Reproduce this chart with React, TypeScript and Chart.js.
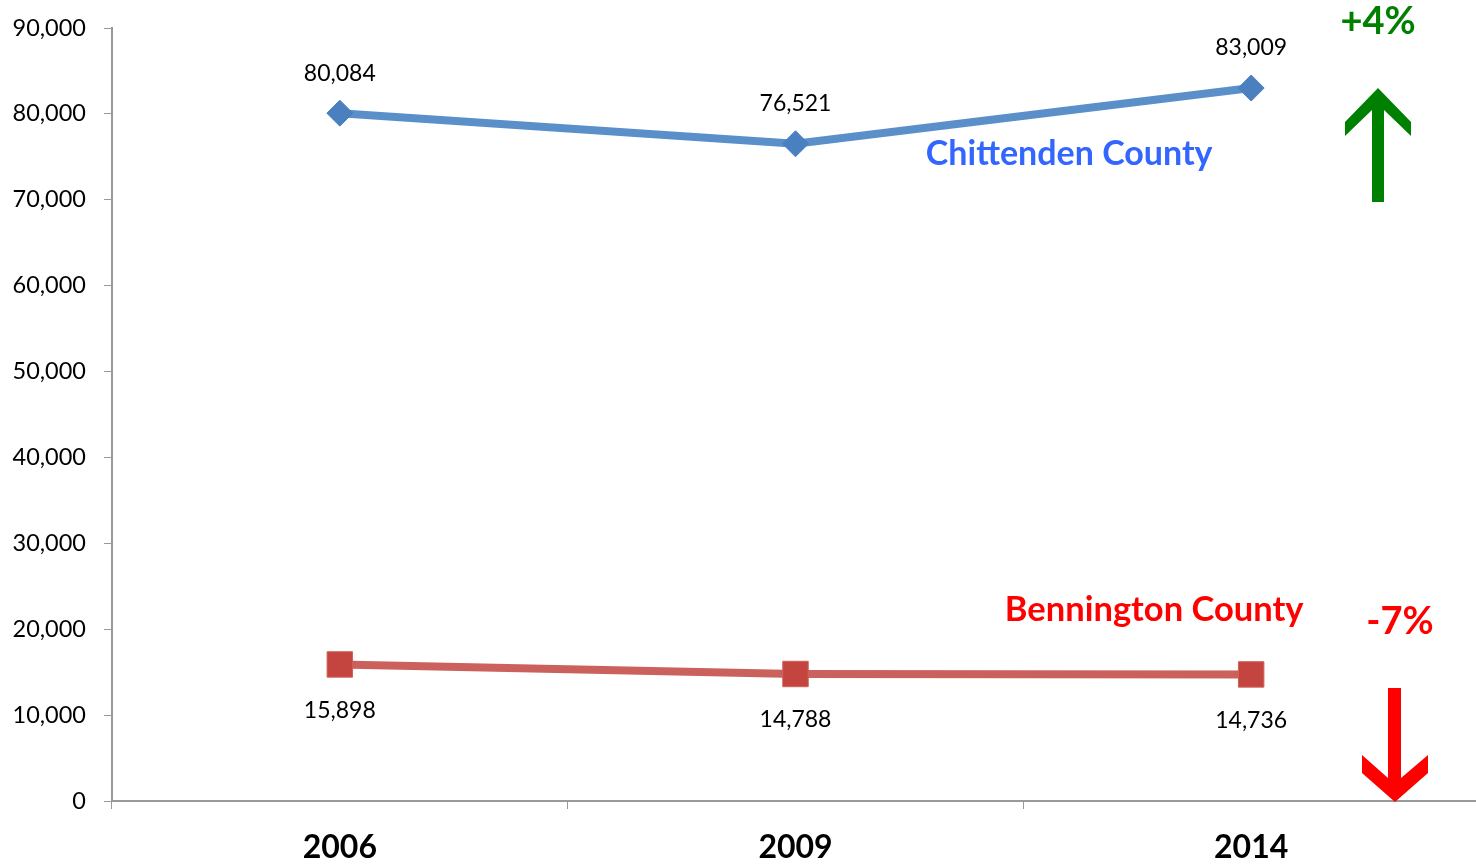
import React, { useEffect, useRef } from "react";
import { Chart, registerables } from "chart.js";

Chart.register(...registerables);

const years = ["2006", "2009", "2014"];
const chittenden = [80084, 76521, 83009];
const bennington = [15898, 14788, 14736];
const yTicks = [0, 10000, 20000, 30000, 40000, 50000, 60000, 70000, 80000, 90000];

const FONT = "Lato, 'Open Sans', sans-serif";

const fmt = (v: number) => v.toLocaleString("en-US");

const labelPlugin = {
  id: "valueLabels",
  afterDatasetsDraw(chart: any) {
    const ctx = chart.ctx;
    ctx.save();
    ctx.font = `23px ${FONT}`;
    ctx.fillStyle = "#000";
    ctx.textAlign = "center";
    ctx.textBaseline = "middle";
    chart.data.datasets.forEach((ds: any, i: number) => {
      const meta = chart.getDatasetMeta(i);
      meta.data.forEach((pt: any, j: number) => {
        const dy = i === 0 ? -40 : 46;
        ctx.fillText(fmt(ds.data[j]), pt.x, pt.y + dy);
      });
    });
    ctx.restore();
  },
};

const annotationPlugin = {
  id: "annotations",
  afterDraw(chart: any) {
    const ctx = chart.ctx;
    const y = chart.scales.y;
    const x = chart.scales.x;
    ctx.save();
    ctx.textAlign = "center";
    ctx.textBaseline = "middle";
    // series names
    ctx.font = `bold 34px ${FONT}`;
    ctx.fillStyle = "#3366ff";
    ctx.fillText("Chittenden County", x.getPixelForValue(2) - 182, y.getPixelForValue(75000) - 3);
    ctx.font = `bold 34.5px ${FONT}`;
    ctx.fillStyle = "#ff0000";
    ctx.fillText("Bennington County", x.getPixelForValue(2) - 97, y.getPixelForValue(22000) - 2);
    // percentages
    ctx.font = `bold 38px ${FONT}`;
    ctx.fillStyle = "#008000";
    ctx.fillText("+4%", 1378, 22);
    ctx.fillStyle = "#ff0000";
    ctx.fillText("-7%", 1400, 622);
    // green up arrow
    ctx.fillStyle = "#008000";
    ctx.beginPath();
    ctx.moveTo(1372, 202);
    ctx.lineTo(1384, 202);
    ctx.lineTo(1384, 110);
    ctx.lineTo(1411, 136);
    ctx.lineTo(1411, 122);
    ctx.lineTo(1378, 88);
    ctx.lineTo(1345, 122);
    ctx.lineTo(1345, 136);
    ctx.lineTo(1372, 110);
    ctx.closePath();
    ctx.fill();
    // red down arrow
    ctx.fillStyle = "#ff0000";
    ctx.beginPath();
    ctx.moveTo(1388, 688);
    ctx.lineTo(1401, 688);
    ctx.lineTo(1401, 778);
    ctx.lineTo(1428, 755);
    ctx.lineTo(1428, 773);
    ctx.lineTo(1395, 802);
    ctx.lineTo(1362, 773);
    ctx.lineTo(1362, 755);
    ctx.lineTo(1388, 778);
    ctx.closePath();
    ctx.fill();
    ctx.restore();
  },
};

export default function App() {
  const ref = useRef<HTMLCanvasElement | null>(null);
  useEffect(() => {
    if (!ref.current) return;
    const chart = new Chart(ref.current, {
      type: "line",
      data: {
        labels: years,
        datasets: [
          {
            label: "Chittenden County",
            data: chittenden,
            borderColor: "#5b8fc9",
            backgroundColor: "#4a80c0",
            borderWidth: 8,
            pointStyle: "rectRot",
            pointRadius: 13,
            pointBorderWidth: 1,
            pointBorderColor: "#4a80c0",
            tension: 0,
          },
          {
            label: "Bennington County",
            data: bennington,
            borderColor: "#cb615c",
            backgroundColor: "#c4443f",
            borderWidth: 8,
            pointStyle: "rect",
            pointRadius: 18,
            pointBorderWidth: 1,
            pointBorderColor: "#d0605a",
            tension: 0,
          },
        ],
      },
      options: {
        animation: false,
        responsive: false,
        maintainAspectRatio: false,
        layout: { padding: { top: 28, left: 0, right: 0, bottom: 0 } },
        plugins: {
          legend: { display: false },
          tooltip: { enabled: false },
        },
        scales: {
          x: {
            type: "category",
            offset: true,
            grid: {
              offset: true,
              drawOnChartArea: false,
              drawTicks: true,
              tickLength: 8,
              color: "#999",
            },
            border: { color: "#999", width: 2 },
            ticks: {
              color: "#000",
              font: { family: FONT, size: 32, weight: "bold" },
              padding: 19,
            },
            afterFit(scale: any) {
              scale.height = 64;
              scale.paddingLeft = 0;
              scale.paddingRight = 0;
            },
          },
          y: {
            min: 0,
            max: 90000,
            afterBuildTicks(scale: any) {
              scale.ticks = yTicks.map((v) => ({ value: v }));
            },
            grid: {
              drawOnChartArea: false,
              drawTicks: true,
              tickLength: 8,
              color: "#999",
            },
            border: { color: "#999", width: 2 },
            ticks: {
              color: "#000",
              font: { family: FONT, size: 23.5 },
              padding: 18,
              callback: (v: any) => fmt(Number(v)),
            },
            afterFit(scale: any) {
              scale.width = 112;
              scale.paddingTop = 0;
              scale.paddingBottom = 0;
            },
          },
        },
      },
      plugins: [labelPlugin, annotationPlugin],
    });
    return () => chart.destroy();
  }, []);
  return (
    <div
      style={{
        position: "absolute",
        left: 0,
        top: 0,
        width: 1476,
        height: 865,
        overflow: "hidden",
        background: "#fff",
      }}
    >
      <canvas ref={ref} width={1498} height={865} style={{ display: "block", width: 1498, height: 865 }} />
    </div>
  );
}
